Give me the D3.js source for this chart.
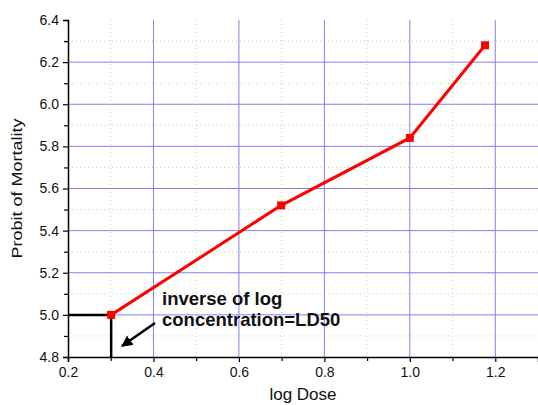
<!DOCTYPE html>
<html>
<head>
<meta charset="utf-8">
<script src="https://cdn.jsdelivr.net/npm/d3@7"></script>
<style>
  body { margin: 0; background: #fff; }
  svg { font-family: "Liberation Sans", Arial, sans-serif; }
</style>
</head>
<body>
<div id="chart"></div>
<script>
// values
let logDose = [0.301, 0.699, 1.0, 1.176];
let probit = [5.0, 5.52, 5.84, 6.28];
let xTicks = [0.2, 0.4, 0.6, 0.8, 1.0, 1.2];
let yTicks = [4.8, 5.0, 5.2, 5.4, 5.6, 5.8, 6.0, 6.2, 6.4];
let ld50 = [0.301, 5.0];
let noteLines = ["inverse of log", "concentration=LD50"];

let width = 538, height = 405;

let svg = d3.select('#chart')
    .append('svg')
    .attr('width', width)
    .attr('height', height);

let x = d3.scaleLinear().domain([0.2, 1.3]).range([68, 538]);
let y = d3.scaleLinear().domain([4.8, 6.4]).range([357, 20]);

// minor grid (green dotted)
let xMinor = d3.range(0.3, 1.3, 0.2);
let yMinor = d3.range(4.9, 6.4, 0.2);
svg.append('g').selectAll('line').data(xMinor).enter().append('line')
    .attr('x1', d => x(d)).attr('x2', d => x(d))
    .attr('y1', y(4.8)).attr('y2', y(6.4))
    .attr('stroke', '#a0eca0').attr('stroke-dasharray', '1,3');
svg.append('g').selectAll('line').data(yMinor).enter().append('line')
    .attr('x1', x(0.2)).attr('x2', x(1.3))
    .attr('y1', d => y(d)).attr('y2', d => y(d))
    .attr('stroke', '#a0eca0').attr('stroke-dasharray', '1,3');

// major grid (blue)
svg.append('g').selectAll('line').data(xTicks.slice(1)).enter().append('line')
    .attr('x1', d => x(d)).attr('x2', d => x(d))
    .attr('y1', y(4.8)).attr('y2', y(6.4))
    .attr('stroke', '#8080f2').attr('stroke-width', 1);
svg.append('g').selectAll('line').data(yTicks.slice(1, -1)).enter().append('line')
    .attr('x1', x(0.2)).attr('x2', x(1.3))
    .attr('y1', d => y(d)).attr('y2', d => y(d))
    .attr('stroke', '#8080f2').attr('stroke-width', 1);

// axes
let xAxis = d3.axisBottom(x).tickValues(xTicks).tickSize(5).tickPadding(5)
    .tickFormat(d3.format('.1f'));
let gx = svg.append('g').attr('transform', 'translate(0,' + y(4.8) + ')').call(xAxis);
let xMinorAxis = d3.axisBottom(x).tickValues(d3.range(0.3, 1.31, 0.2)).tickSize(4).tickFormat('');
svg.append('g').attr('transform', 'translate(0,' + y(4.8) + ')').call(xMinorAxis)
    .select('.domain').remove();

let yAxis = d3.axisLeft(y).tickValues(yTicks).tickSize(5).tickPadding(4)
    .tickFormat(d3.format('.1f'));
let gy = svg.append('g').attr('transform', 'translate(' + x(0.2) + ',0)').call(yAxis);
let yMinorAxis = d3.axisLeft(y).tickValues(yMinor.concat([6.3])).tickSize(4).tickFormat('');
svg.append('g').attr('transform', 'translate(' + x(0.2) + ',0)').call(yMinorAxis)
    .select('.domain').remove();

[gx, gy].forEach(function (g) {
    g.select('.domain').attr('stroke', '#000').attr('stroke-width', 1.5);
    g.selectAll('.tick text').attr('font-size', 14).attr('fill', '#111')
        .attr('font-family', '"Liberation Sans", Arial, sans-serif');
});
svg.selectAll('.tick line').attr('stroke', '#000').attr('stroke-width', 1.2);

// axis titles
svg.append('text')
    .attr('x', (x(0.2) + x(1.3)) / 2)
    .attr('y', 400)
    .attr('text-anchor', 'middle')
    .attr('font-size', 17)
    .attr('fill', '#111')
    .text('log Dose');
svg.append('text')
    .attr('transform', 'translate(22,' + (y(4.8) + y(6.4)) / 2 + ') rotate(-90) scale(1.2,1)')
    .attr('text-anchor', 'middle')
    .attr('font-size', 15)
    .attr('fill', '#111')
    .text('Probit of Mortality');

// LD50 guide lines
svg.append('path')
    .attr('d', 'M' + x(0.2) + ',' + y(ld50[1]) + 'L' + x(ld50[0]) + ',' + y(ld50[1]) +
        'L' + x(ld50[0]) + ',' + y(4.8))
    .attr('fill', 'none')
    .attr('stroke', '#000')
    .attr('stroke-width', 2.5);

// data line + markers
let line = d3.line().x(d => x(d[0])).y(d => y(d[1]));
let pts = d3.zip(logDose, probit);
svg.append('path')
    .attr('d', line(pts))
    .attr('fill', 'none')
    .attr('stroke', '#ff0000')
    .attr('stroke-width', 3);
svg.append('g').selectAll('rect').data(pts).enter().append('rect')
    .attr('x', d => x(d[0]) - 4)
    .attr('y', d => y(d[1]) - 4)
    .attr('width', 8).attr('height', 8)
    .attr('fill', '#ff0000');

// annotation
svg.append('defs').append('marker')
    .attr('id', 'arr')
    .attr('viewBox', '0 0 10 10')
    .attr('refX', 9).attr('refY', 5)
    .attr('markerWidth', 4.5).attr('markerHeight', 4.5)
    .attr('orient', 'auto')
    .append('path').attr('d', 'M0,0L10,5L0,10z').attr('fill', '#000');
svg.append('line')
    .attr('x1', 155).attr('y1', 323)
    .attr('x2', 122).attr('y2', 346)
    .attr('stroke', '#000').attr('stroke-width', 2.5)
    .attr('marker-end', 'url(#arr)');
svg.append('text')
    .attr('x', 162).attr('y', 305)
    .attr('font-size', 18.5).attr('font-weight', 'bold')
    .attr('fill', '#111')
    .selectAll('tspan').data(noteLines).enter().append('tspan')
    .attr('x', 162).attr('dy', (d, i) => i ? 21 : 0)
    .text(d => d);
</script>
</body>
</html>
